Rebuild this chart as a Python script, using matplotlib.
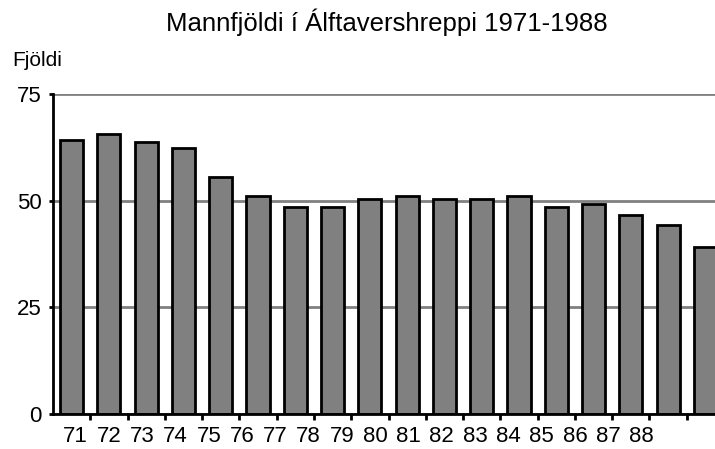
import matplotlib
matplotlib.use('Agg')
import matplotlib.pyplot as plt
import numpy as np

plt.rcParams['font.family'] = ['Liberation Sans', 'DejaVu Sans']

years = ['71', '72', '73', '74', '75', '76', '77', '78', '79',
         '80', '81', '82', '83', '84', '85', '86', '87', '88']
population = [64.1, 65.5, 63.7, 62.3, 55.5, 51.0, 48.6, 48.6, 50.3,
              51.1, 50.3, 50.3, 51.1, 48.5, 49.2, 46.7, 44.2, 39.2]
yticks = [0, 25, 50, 75]

fig = plt.figure(figsize=(7.15, 4.49), dpi=100)
# axes run off the right edge like the original
ax = fig.add_axes([53 / 715, 35.3 / 449, 671 / 715, 319.7 / 449])

x = np.arange(len(years))
ax.set_axisbelow(True)
ax.bar(x, population, width=0.62, color='#808080', edgecolor='black',
       linewidth=2, zorder=2)

ax.set_xlim(-0.5, len(years) - 0.5)
ax.set_ylim(0, 75)

for s in ['top', 'right']:
    ax.spines[s].set_visible(False)
ax.spines['left'].set_linewidth(2)
ax.spines['bottom'].set_linewidth(2)
ax.spines['bottom'].set_zorder(3)

ax.set_yticks(yticks)
ax.set_yticklabels([str(v) for v in yticks], fontsize=16)
ax.tick_params(axis='y', length=3, width=2, pad=5)
ax.yaxis.grid(True, color='#808080', linewidth=2)

# tick marks between categories, labels spaced on their own
ax.set_xticks(x[:-1] + 0.5, minor=True)
ax.tick_params(axis='x', which='minor', length=4, width=2, direction='out')
label_pos = 0.111 + x * (33.3 / 37.3)
ax.set_xticks(label_pos)
ax.set_xticklabels(years, fontsize=16)
ax.tick_params(axis='x', which='major', length=0, pad=9)

fig.text(387 / 715, 1 - 22.6 / 449, 'Mannfjöldi í Álftavershreppi 1971-1988',
         ha='center', va='center', fontsize=18.5)
fig.text(12 / 715, 1 - 60 / 449, 'Fjöldi', ha='left', va='center', fontsize=15)

fig.savefig('out.png', dpi=100)
